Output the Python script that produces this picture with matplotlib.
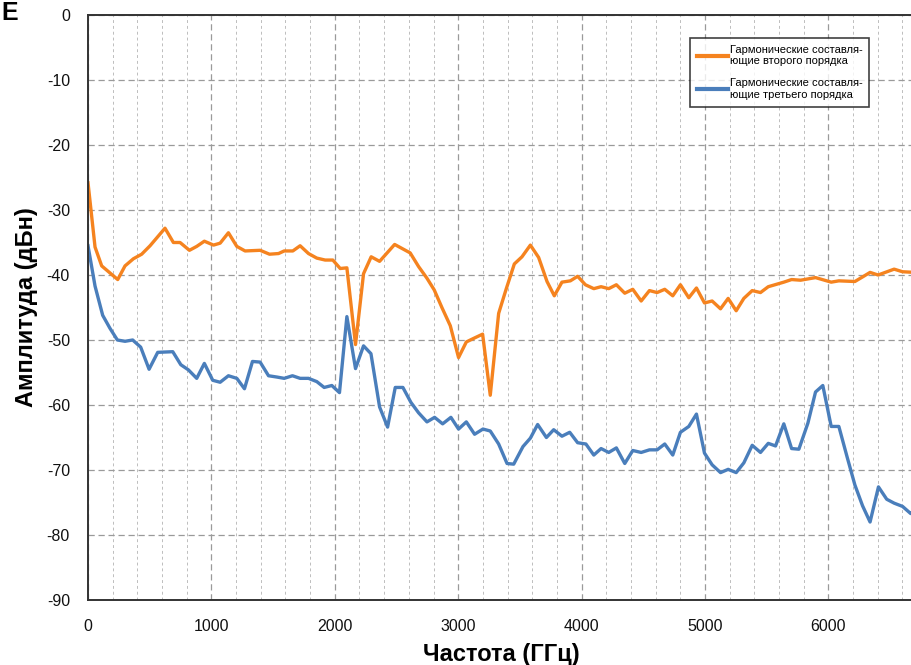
import matplotlib
matplotlib.use("Agg")
import matplotlib.pyplot as plt
from matplotlib.ticker import MultipleLocator

plt.rcParams['font.family'] = ['Liberation Sans', 'DejaVu Sans']
plt.rcParams['axes.unicode_minus'] = False

# ---- data ----
freq_2nd = [0, 57, 111, 241, 300, 368, 435, 503, 624, 692, 746, 822, 881, 943, 1017, 1071,
            1138, 1206, 1273, 1395, 1471, 1544, 1590, 1660, 1719, 1787, 1854, 1922, 1984,
            2044, 2098, 2168, 2233, 2295, 2363, 2485, 2611, 2679, 2747, 2806, 2868, 2936,
            3003, 3066, 3131, 3198, 3260, 3328, 3390, 3455, 3517, 3585, 3652, 3720, 3779,
            3841, 3909, 3968, 4031, 4099, 4158, 4220, 4282, 4350, 4415, 4483, 4550, 4612,
            4674, 4739, 4801, 4869, 4931, 4996, 5058, 5126, 5188, 5253, 5315, 5383, 5450,
            5513, 5639, 5702, 5775, 5896, 6023, 6085, 6215, 6277, 6338, 6403, 6533, 6601, 6700]
amp_2nd = [-25.8, -35.7, -38.6, -40.7, -38.6, -37.5, -36.8, -35.5, -32.8, -35.0, -35.0, -36.2,
           -35.6, -34.8, -35.4, -35.1, -33.5, -35.6, -36.3, -36.2, -36.8, -36.7, -36.3, -36.3,
           -35.5, -36.7, -37.4, -37.7, -37.7, -39.0, -38.9, -50.7, -39.8, -37.2, -37.9, -35.3,
           -36.6, -38.7, -40.5, -42.3, -45.0, -47.8, -52.7, -50.3, -49.7, -49.1, -58.5, -45.9,
           -42.1, -38.3, -37.2, -35.4, -37.3, -41.0, -43.2, -41.1, -40.9, -40.2, -41.5, -42.1,
           -41.8, -42.1, -41.5, -42.8, -42.2, -44.0, -42.4, -42.7, -42.2, -43.2, -41.5, -43.5,
           -42.0, -44.3, -44.0, -45.2, -43.6, -45.5, -43.6, -42.4, -42.7, -41.8, -41.1, -40.7,
           -40.8, -40.4, -41.1, -40.9, -41.0, -40.3, -39.6, -40.0, -39.1, -39.5, -39.6]

freq_3rd = [0, 57, 119, 178, 238, 300, 362, 427, 495, 565, 687, 752, 814, 881, 943, 1011, 1071,
            1138, 1206, 1268, 1333, 1395, 1463, 1531, 1590, 1657, 1719, 1787, 1854, 1914, 1976,
            2038, 2098, 2168, 2233, 2293, 2363, 2428, 2490, 2552, 2617, 2679, 2747, 2809, 2874,
            2941, 3003, 3066, 3133, 3201, 3260, 3328, 3396, 3450, 3525, 3585, 3644, 3715, 3774,
            3841, 3904, 3968, 4035, 4099, 4158, 4220, 4282, 4350, 4415, 4483, 4550, 4612, 4674,
            4739, 4801, 4869, 4931, 4996, 5058, 5126, 5188, 5253, 5315, 5383, 5450, 5513, 5572,
            5639, 5702, 5761, 5834, 5896, 5955, 6023, 6085, 6152, 6215, 6277, 6338, 6406, 6473,
            6533, 6601, 6667, 6700]
amp_3rd = [-35.5, -41.7, -46.2, -48.2, -50.0, -50.2, -50.0, -51.1, -54.5, -51.9, -51.8, -53.8,
           -54.6, -55.9, -53.6, -56.2, -56.5, -55.5, -55.9, -57.5, -53.3, -53.4, -55.5, -55.7,
           -55.9, -55.5, -55.9, -55.9, -56.4, -57.3, -57.0, -58.1, -46.4, -54.4, -50.9, -52.1,
           -60.3, -63.4, -57.3, -57.3, -59.6, -61.2, -62.6, -61.9, -62.9, -61.9, -63.7, -62.6,
           -64.5, -63.7, -64.0, -66.0, -69.0, -69.1, -66.4, -65.1, -63.0, -65.0, -63.8, -64.8,
           -64.2, -65.8, -66.0, -67.7, -66.7, -67.3, -66.6, -69.0, -67.0, -67.3, -66.9, -66.9,
           -66.0, -67.7, -64.2, -63.3, -61.4, -67.4, -69.2, -70.4, -69.9, -70.4, -68.9, -66.2,
           -67.3, -65.9, -66.3, -62.9, -66.7, -66.8, -62.8, -58.0, -57.0, -63.3, -63.3, -68.0,
           -72.3, -75.5, -78.0, -72.6, -74.5, -75.1, -75.6, -76.7, -76.3]

label_2nd = "Гармонические составля-\nющие второго порядка"
label_3rd = "Гармонические составля-\nющие третьего порядка"
x_ticks = [0, 1000, 2000, 3000, 4000, 5000, 6000]
y_ticks = [0, -10, -20, -30, -40, -50, -60, -70, -80, -90]

# ---- figure ----
fig = plt.figure(figsize=(9.12, 6.65), dpi=100)
ax = fig.add_axes([88 / 912, 1 - 600 / 665, 1 - 88 / 912 + 0.003, (600 - 15) / 665])

ax.plot(freq_2nd, amp_2nd, color='#F5831F', lw=2.4, label=label_2nd, solid_joinstyle='round')
ax.plot(freq_3rd, amp_3rd, color='#4A7EBB', lw=2.4, label=label_3rd, solid_joinstyle='round')

ax.set_xlim(0, 6700)
ax.set_ylim(-90, 0)
ax.set_xticks(x_ticks)
ax.set_yticks(y_ticks)
ax.xaxis.set_minor_locator(MultipleLocator(200))

ax.grid(which='major', axis='both', color='#9a9a9a', linestyle=(0, (5, 3)), lw=0.9)
ax.grid(which='minor', axis='x', color='#bdbdbd', linestyle=(0, (3, 3)), lw=0.7)
ax.set_axisbelow(True)

for s in ['left', 'bottom', 'top']:
    ax.spines[s].set_color('#333333')
    ax.spines[s].set_linewidth(1.4)
ax.spines['right'].set_visible(False)

ax.tick_params(which='both', length=0)
ax.tick_params(axis='y', labelsize=11.5, pad=13, colors='#111111')
ax.tick_params(axis='x', labelsize=11.5, pad=14, colors='#111111')

ax.set_xlabel("Частота (ГГц)", fontsize=17, fontweight='bold', labelpad=6)
ax.set_ylabel("Амплитуда (дБн)", fontsize=17, fontweight='bold', labelpad=6)

leg = ax.legend(loc='upper left', bbox_to_anchor=((688 - 88) / 824, 1 - (38 - 15) / 585),
                frameon=True, fancybox=False, edgecolor='#111111',
                handlelength=2.8, handletextpad=0.2, borderpad=0.6, labelspacing=1.1,
                borderaxespad=0.0,
                prop={'family': ['Liberation Sans Narrow', 'Liberation Sans'], 'size': 8})
leg.get_frame().set_linewidth(1.2)
for h in leg.get_lines():
    h.set_linewidth(3.0)

fig.text(0.002, 1.0 - 1 / 665, "E", fontsize=18, fontweight='bold', va='top', ha='left')

fig.savefig("out.png", dpi=100)
